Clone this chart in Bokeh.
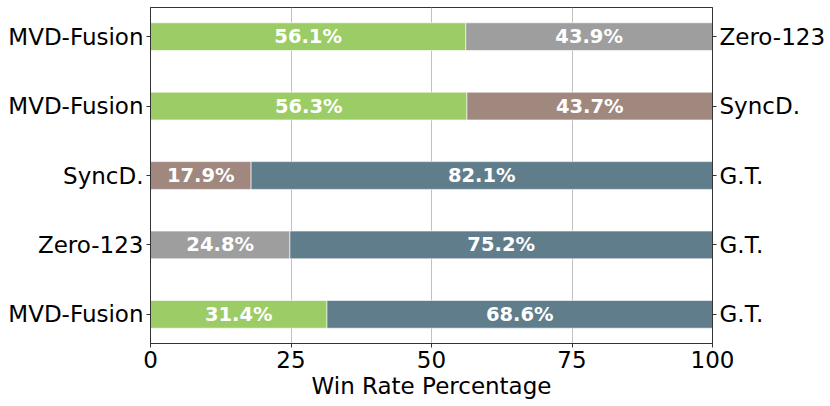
from bokeh.plotting import figure
from bokeh.models import ColumnDataSource, LinearAxis, FixedTicker, Range1d, LabelSet
from bokeh.core.properties import value
from bokeh.embed import file_html
from bokeh.resources import INLINE

left_labels = ["MVD-Fusion", "MVD-Fusion", "SyncD.", "Zero-123", "MVD-Fusion"]
right_labels = ["Zero-123", "SyncD.", "G.T.", "G.T.", "G.T."]
left_vals = [56.1, 56.3, 17.9, 24.8, 31.4]
right_vals = [43.9, 43.7, 82.1, 75.2, 68.6]
x_ticks = [0, 25, 50, 75, 100]

method_colors = {
    "MVD-Fusion": "#9ccc65",
    "Zero-123": "#9e9e9e",
    "SyncD.": "#a1887f",
    "G.T.": "#607d8b",
}

n = len(left_labels)
ys = [n - 1 - i for i in range(n)]

FONT = "DejaVu Sans"
FS = "23px"

W, H = 828, 402
p = figure(width=W, height=H, output_backend="svg", toolbar_location=None,
           x_range=Range1d(0, 100), y_range=Range1d(-0.42, n - 1 + 0.42),
           min_border_left=150, min_border_right=W - 713, min_border_top=7,
           min_border_bottom=H - 343)

left_src = ColumnDataSource(dict(
    y=ys, left=[0] * n, right=left_vals,
    color=[method_colors[m] for m in left_labels],
    mid=[v / 2 for v in left_vals],
    txt=[f"{v:.1f}%" for v in left_vals],
))
right_src = ColumnDataSource(dict(
    y=ys, left=left_vals, right=[100] * n,
    color=[method_colors[m] for m in right_labels],
    mid=[l + r / 2 for l, r in zip(left_vals, right_vals)],
    txt=[f"{v:.1f}%" for v in right_vals],
))

for src in (left_src, right_src):
    p.hbar(y="y", left="left", right="right", height=0.4, source=src,
           fill_color="color", line_color="white", line_alpha=0.6, line_width=1)
    p.add_layout(LabelSet(x="mid", y="y", text="txt", source=src,
                          text_align="center", text_baseline="middle",
                          text_color="white", text_font=value(FONT),
                          text_font_style="bold", text_font_size="19.5px"))

p.xgrid.ticker = FixedTicker(ticks=x_ticks)
p.xgrid.grid_line_color = "#c0c0c0"
p.xgrid.grid_line_width = 1
p.ygrid.grid_line_color = None

p.xaxis.ticker = FixedTicker(ticks=x_ticks)
p.xaxis.axis_label = "Win Rate Percentage"

p.yaxis.ticker = FixedTicker(ticks=ys)
p.yaxis.major_label_overrides = {y: lab for y, lab in zip(ys, left_labels)}

right_axis = LinearAxis(ticker=FixedTicker(ticks=ys),
                        major_label_overrides={y: lab for y, lab in zip(ys, right_labels)})
p.add_layout(right_axis, "right")

for ax in p.axis:
    ax.minor_tick_line_color = None
    ax.major_tick_in = 0
    ax.major_tick_out = 4
    ax.major_tick_line_color = "#333333"
    ax.axis_line_color = "#333333"
    ax.major_label_text_font = FONT
    ax.major_label_text_font_size = FS
    ax.major_label_text_color = "black"
    ax.axis_label_text_font = FONT
    ax.axis_label_text_font_size = FS
    ax.axis_label_text_font_style = "normal"
    ax.axis_label_text_color = "black"
    ax.major_label_standoff = 3

right_axis.major_label_standoff = 3
p.xaxis.axis_label_standoff = 2
p.outline_line_color = "#333333"
p.outline_line_width = 1
p.background_fill_color = "white"
p.border_fill_color = "white"

open("out.html", "w").write(file_html(p, INLINE))
